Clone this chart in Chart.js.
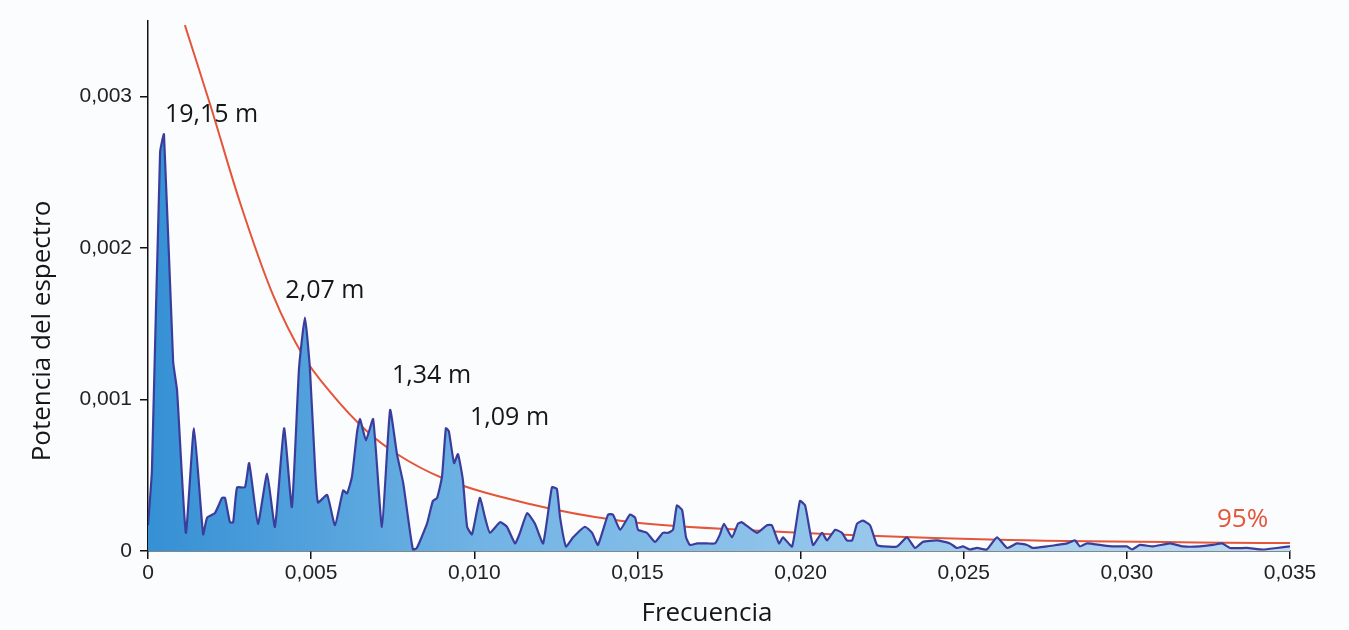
<!DOCTYPE html>
<html lang="es">
<head>
<meta charset="utf-8">
<title>Potencia del espectro</title>
<script src="https://cdn.jsdelivr.net/npm/chart.js@4.4.1/dist/chart.umd.min.js"></script>
<style>
  html, body { margin: 0; padding: 0; background: #fbfcfd; }
  #chart { display: block; }
</style>
</head>
<body>
<canvas id="chart" width="1349" height="630"></canvas>
<script>
// Espectro de potencia (frecuencia / potencia)
const freq = [
  0, 0.00012, 0.00037, 0.00049, 0.00077, 0.00089, 0.00116, 0.00141, 0.00169, 0.00181,
  0.00205, 0.00227, 0.00236, 0.00251, 0.00261, 0.00273, 0.00297, 0.00310, 0.00337, 0.00365,
  0.00389, 0.00417, 0.00441, 0.00463, 0.00481, 0.00496, 0.00512, 0.00521, 0.00549, 0.00573,
  0.00598, 0.00610, 0.00625, 0.00641, 0.00650, 0.00668, 0.00690, 0.00717, 0.00742, 0.00763,
  0.00782, 0.00797, 0.00812, 0.00824, 0.00855, 0.00873, 0.00886, 0.00901, 0.00913, 0.00922,
  0.00938, 0.00950, 0.00965, 0.00978, 0.00993, 0.01017, 0.01033, 0.01048, 0.01079, 0.01100,
  0.01125, 0.01140, 0.01162, 0.01186, 0.01211, 0.01238, 0.01253, 0.01263, 0.01281, 0.01303,
  0.01339, 0.01361, 0.01379, 0.01410, 0.01425, 0.01447, 0.01477, 0.01493, 0.01502, 0.01529,
  0.01554, 0.01578, 0.01594, 0.01609, 0.01621, 0.01637, 0.01649, 0.01661, 0.01683, 0.01713,
  0.01738, 0.01753, 0.01765, 0.01790, 0.01808, 0.01820, 0.01866, 0.01897, 0.01912, 0.01934,
  0.01946, 0.01974, 0.01998, 0.02014, 0.02038, 0.02066, 0.02081, 0.02106, 0.02127, 0.02142,
  0.02158, 0.02173, 0.02191, 0.02213, 0.02234, 0.02253, 0.02296, 0.02326, 0.02351, 0.02375,
  0.02418, 0.02458, 0.02479, 0.02498, 0.02519, 0.02541, 0.02571, 0.02602, 0.02633, 0.02663,
  0.02694, 0.02712, 0.02755, 0.02786, 0.02817, 0.02841, 0.02856, 0.02878, 0.02918, 0.02957,
  0.03000, 0.03016, 0.03040, 0.03080, 0.03132, 0.03172, 0.03224, 0.03264, 0.03292, 0.03316,
  0.03368, 0.03417, 0.03460, 0.03500
];
const power = [
  0.00017, 0.00053, 0.00263, 0.00275, 0.00125, 0.00106, 0.00012, 0.00081, 0.00011, 0.00022,
  0.00025, 0.00035, 0.00035, 0.00019, 0.00019, 0.00042, 0.00042, 0.00058, 0.00018, 0.00051,
  0.00016, 0.00081, 0.00029, 0.00121, 0.00154, 0.00121, 0.00055, 0.00032, 0.00037, 0.00017,
  0.00040, 0.00038, 0.00049, 0.00079, 0.00087, 0.00073, 0.00087, 0.00016, 0.00093, 0.00064,
  0.00045, 0.00022, 0.00001, 0.00002, 0.00018, 0.00033, 0.00035, 0.00049, 0.00081, 0.00079,
  0.00058, 0.00064, 0.00047, 0.00016, 0.00011, 0.00035, 0.00022, 0.00012, 0.00019, 0.00016,
  0.00005, 0.00012, 0.00025, 0.00018, 0.00005, 0.00042, 0.00041, 0.00022, 0.00003, 0.00009,
  0.00016, 0.00012, 0.00004, 0.00024, 0.00024, 0.00014, 0.00024, 0.00022, 0.00014, 0.00012,
  0.00006, 0.00012, 0.00012, 0.00014, 0.00030, 0.00027, 0.00009, 0.00004, 0.00005, 0.00005,
  0.00005, 0.00011, 0.00018, 0.00009, 0.00018, 0.00019, 0.00012, 0.00017, 0.00017, 0.00005,
  0.00009, 0.00003, 0.00033, 0.00030, 0.00004, 0.00012, 0.00007, 0.00014, 0.00012, 0.00007,
  0.00007, 0.00018, 0.00020, 0.00017, 0.00004, 0.00003, 0.00003, 0.00009, 0.00002, 0.00006,
  0.00007, 0.00005, 0.00002, 0.00003, 0.00001, 0.00002, 0.00001, 0.00009, 0.00002, 0.00005,
  0.00004, 0.00002, 0.00003, 0.00004, 0.00005, 0.00007, 0.00003, 0.00005, 0.00004, 0.00003,
  0.00003, 0.00001, 0.00004, 0.00003, 0.00005, 0.00003, 0.00003, 0.00004, 0.00005, 0.00002,
  0.00002, 0.00001, 0.00002, 0.00003
];

// Nivel de confianza del 95 %
const confFreq  = [0.00113, 0.0019, 0.00282, 0.00383, 0.00475, 0.00558, 0.00671, 0.00763, 0.00904, 0.0117, 0.01447, 0.01814, 0.0264, 0.035];
const confPower = [0.00347, 0.00295, 0.00230, 0.00169, 0.00129, 0.00105, 0.00079, 0.00064, 0.00048, 0.00031, 0.00020, 0.00014, 0.000072, 0.000052];

// Ejes
const xTicks = [0, 0.005, 0.010, 0.015, 0.020, 0.025, 0.030, 0.035];
const xTickLabels = ['0', '0,005', '0,010', '0,015', '0,020', '0,025', '0,030', '0,035'];
const yTicks = [0, 0.001, 0.002, 0.003];
const yTickLabels = ['0', '0,001', '0,002', '0,003'];

// Etiquetas de los picos (posición en unidades de datos)
const peakLabels = ['19,15 m', '2,07 m', '1,34 m', '1,09 m'];
const peakFreq   = [0.00052, 0.00421, 0.00748, 0.00987];
const peakPower  = [0.00283, 0.00167, 0.00111, 0.00083];

const toPoints = (xs, ys) => xs.map((x, i) => ({ x: x, y: ys[i] }));

function areaGradient(context) {
    const area = context.chart.chartArea;
    if (!area) return '#5aa7e0';
    const g = context.chart.ctx.createLinearGradient(area.left, 0, area.right, 0);
    g.addColorStop(0, '#3590d4');
    g.addColorStop(0.3, '#72b4e5');
    g.addColorStop(1, '#c0ddf3');
    return g;
}

// Textos: etiquetas de picos, 95 % y títulos de los ejes
const textPlugin = {
    id: 'textos',
    afterDatasetsDraw(chart) {
        const ctx = chart.ctx;
        const xs = chart.scales.x, ys = chart.scales.y;
        ctx.save();
        ctx.textAlign = 'left';
        ctx.textBaseline = 'alphabetic';
        ctx.font = '25px "Open Sans"';
        ctx.fillStyle = '#161616';
        peakLabels.forEach((t, i) => {
            ctx.fillText(t, xs.getPixelForValue(peakFreq[i]), ys.getPixelForValue(peakPower[i]));
        });
        ctx.fillStyle = '#e4553a';
        ctx.font = '26px "Open Sans"';
        ctx.fillText('95%', xs.getPixelForValue(0.03276), ys.getPixelForValue(0.000158));

        ctx.fillStyle = '#161616';
        ctx.font = '26px "Open Sans"';
        ctx.textAlign = 'center';
        ctx.textBaseline = 'middle';
        ctx.fillText('Frecuencia', 707, 614);
        ctx.translate(43, 331);
        ctx.rotate(-Math.PI / 2);
        ctx.fillText('Potencia del espectro', 0, 0);
        ctx.restore();
    }
};

new Chart(document.getElementById('chart'), {
    type: 'line',
    data: {
        datasets: [
            {
                data: toPoints(freq, power),
                borderColor: '#3b3d9c',
                borderWidth: 2.2,
                backgroundColor: areaGradient,
                fill: 'origin',
                pointRadius: 0,
                tension: 0.15
            },
            {
                data: toPoints(confFreq, confPower),
                borderColor: '#e4553a',
                borderWidth: 2,
                fill: false,
                pointRadius: 0,
                cubicInterpolationMode: 'monotone'
            }
        ]
    },
    options: {
        responsive: false,
        animation: false,
        layout: { padding: { top: 18, right: 59, left: 0, bottom: 0 } },
        plugins: {
            legend: { display: false },
            tooltip: { enabled: false }
        },
        scales: {
            x: {
                type: 'linear',
                min: 0,
                max: 0.035,
                afterFit: (s) => { s.height = 79; },
                afterBuildTicks: (s) => { s.ticks = xTicks.map(v => ({ value: v })); },
                border: { display: true, color: '#111', width: 1.5 },
                grid: { drawOnChartArea: false, drawTicks: true, tickLength: 8, color: '#111', lineWidth: 1.5 },
                ticks: {
                    font: { family: 'Liberation Sans', size: 21 },
                    color: '#222',
                    padding: 2,
                    maxRotation: 0,
                    callback: (v, i) => xTickLabels[i]
                }
            },
            y: {
                min: 0,
                max: 0.0035,
                afterFit: (s) => { s.width = 148; },
                afterBuildTicks: (s) => { s.ticks = yTicks.map(v => ({ value: v })); },
                border: { display: true, color: '#111', width: 1.5 },
                grid: { drawOnChartArea: false, drawTicks: true, tickLength: 8, color: '#111', lineWidth: 1.5 },
                ticks: {
                    font: { family: 'Liberation Sans', size: 21 },
                    color: '#222',
                    padding: 8,
                    callback: (v, i) => yTickLabels[i]
                }
            }
        }
    },
    plugins: [textPlugin]
});
</script>
</body>
</html>
